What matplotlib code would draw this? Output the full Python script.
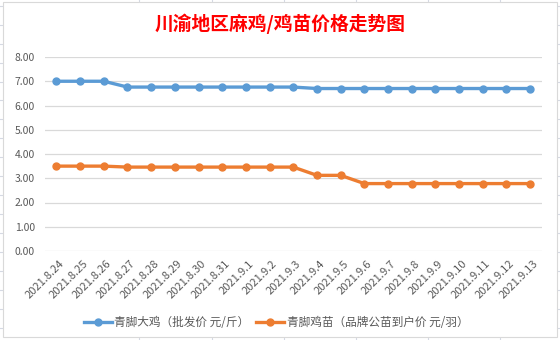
import matplotlib
matplotlib.use('Agg')
import matplotlib.pyplot as plt
from matplotlib.patches import Rectangle
from matplotlib.lines import Line2D
import matplotlib.transforms as mtransforms

plt.rcParams['font.family'] = ['Noto Sans CJK SC', 'DejaVu Sans']

# 数据
dates = ['2021.8.24', '2021.8.25', '2021.8.26', '2021.8.27', '2021.8.28', '2021.8.29',
         '2021.8.30', '2021.8.31', '2021.9.1', '2021.9.2', '2021.9.3', '2021.9.4',
         '2021.9.5', '2021.9.6', '2021.9.7', '2021.9.8', '2021.9.9', '2021.9.10',
         '2021.9.11', '2021.9.12', '2021.9.13']
big_chicken = [7.00, 7.00, 7.00, 6.76, 6.76, 6.76, 6.76, 6.76, 6.76, 6.76, 6.76,
               6.70, 6.70, 6.70, 6.70, 6.70, 6.70, 6.70, 6.70, 6.70, 6.70]
chick = [3.50, 3.50, 3.50, 3.46, 3.46, 3.46, 3.46, 3.46, 3.46, 3.46, 3.46,
         3.12, 3.12, 2.78, 2.78, 2.78, 2.78, 2.78, 2.78, 2.78, 2.78]
yticks = [0, 1, 2, 3, 4, 5, 6, 7, 8]

label_big = '青脚大鸡（批发价 元/斤）'
label_chick = '青脚鸡苗（品牌公苗到户价 元/羽）'
title = '川渝地区麻鸡/鸡苗价格走势图'

W, H = 560, 340
fig = plt.figure(figsize=(5.6, 3.4), dpi=100)
fig.patch.set_facecolor('white')

# excel 单元格网格线 (图表外)
cell = '#D5D9E3'
for k in range(18):
    y = 5.7 + 18.95 * k
    fig.add_artist(Line2D([0, 1], [1 - y / H, 1 - y / H], color=cell, lw=0.8, zorder=0))
for x in [139, 212, 284, 356, 428, 500]:
    fig.add_artist(Line2D([x / W, x / W], [0, 1], color=cell, lw=0.8, zorder=0))

# 图表区
fig.add_artist(Rectangle((3 / W, 1 - 337 / H), 554 / W, 335 / H, facecolor='white',
                         edgecolor='#D9D9D9', lw=0.8, zorder=1))

ax = fig.add_axes([44.6 / W, 1 - 251 / H, (542 - 44.6) / W, (251 - 57) / H])
ax.set_zorder(2)
ax.patch.set_alpha(0)

pos = range(len(dates))
ax.plot(pos, big_chicken, color='#5B9BD5', lw=2.4, marker='o', ms=5, label=label_big, zorder=3)
ax.plot(pos, chick, color='#ED7D31', lw=2.4, marker='o', ms=5, label=label_chick, zorder=3)

ax.set_xlim(-0.5, len(dates) - 0.5)
ax.set_ylim(0, 8)
ax.set_yticks(yticks)
ax.set_yticklabels(['%.2f' % v for v in yticks])
ax.yaxis.grid(True, color='#D9D9D9', lw=0.9)
ax.set_axisbelow(True)
for s in ax.spines.values():
    s.set_visible(False)
ax.tick_params(axis='both', length=0, colors='#595959', labelsize=7.5)
ax.tick_params(axis='y', pad=7)

ax.set_xticks(list(pos))
ax.set_xticklabels(dates, rotation=45, ha='right', va='center', rotation_mode='anchor',
                   fontsize=8)
ax.tick_params(axis='x', pad=8)
offset = mtransforms.ScaledTranslation(6 / 100, 0, fig.dpi_scale_trans)
for lab in ax.get_xticklabels():
    lab.set_transform(lab.get_transform() + offset)

fig.text(0.5, 1 - 24 / H, title, color='#FF0000', fontsize=13.5, fontweight='bold',
         ha='center', va='center')

fig.legend(loc='center', bbox_to_anchor=(276 / W, 1 - 323 / H), ncol=2, frameon=False,
           fontsize=8.4, handlelength=2.4, handletextpad=0.2, columnspacing=0.6,
           labelcolor='#595959')

plt.savefig('out.png', dpi=100)
